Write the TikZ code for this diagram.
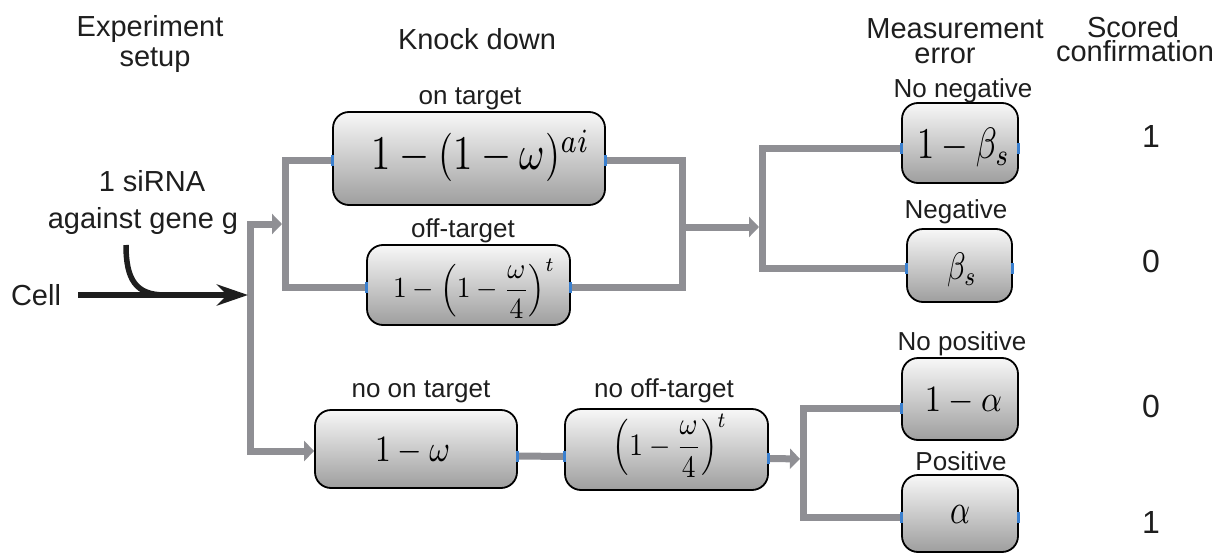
\documentclass[tikz,border=0pt]{standalone}
\usepackage[no-math]{fontspec}
\usepackage{graphicx}
\newfontfamily\hv{Liberation Sans}
\usetikzlibrary{arrows.meta}

\definecolor{linegray}{RGB}{143,143,148}
\definecolor{portblue}{RGB}{58,128,208}
\definecolor{ink}{RGB}{30,30,30}

\tikzset{
  txt/.style={font=\hv\fontsize{29}{33}\selectfont, text=ink, inner sep=0pt, anchor=base},
  score/.style={font=\hv\fontsize{32}{36}\selectfont, text=ink, inner sep=0pt, anchor=base},
  lbl/.style={font=\hv\fontsize{26}{30}\selectfont, text=ink, inner sep=0pt, anchor=base},
  pbox/.style={draw=black, line width=1.8pt, rounded corners=16pt,
               top color=black!3, bottom color=black!38, inner sep=0pt},
  fml/.style={inner sep=0pt, text=black},
  gline/.style={draw=linegray, line width=7pt},
  gtip/.style={-{Triangle[length=10pt,width=20pt]}},
  port/.style={fill=portblue, draw=none, minimum width=3pt, minimum height=11pt, inner sep=0pt},
  blk/.style={draw=ink, line width=5.5pt},
}

\begin{document}
\begin{tikzpicture}[x=1pt,y=-1pt]
\useasboundingbox (0,0) rectangle (1224,554);

% column headers
\node[txt] (exp1) at (150,36) {Experiment};
\node[txt] (exp2) at (155,66) {setup};
\node[txt] (knock) at (477,49) {Knock down};
\node[txt] (meas1) at (955,38) {Measurement};
\node[txt] (meas2) at (945,63) {error};
\node[txt] (sc1) at (1133,37) {Scored};
\node[txt] (sc2) at (1135,61) {confirmation};

% inputs
\node[txt] (sirna1) at (152,191) {1 siRNA};
\node[txt] (sirna2) at (143,228) {against gene g};
\node[txt] (cell) at (36,305) {Cell};

% probability boxes
\node[pbox, minimum width=272pt, minimum height=93pt] (ont)   at (469,158.5) {};
\node[pbox, minimum width=203pt, minimum height=80pt] (offt)  at (468.5,285) {};
\node[pbox, minimum width=202pt, minimum height=78pt] (noon)  at (416,449) {};
\node[pbox, minimum width=203pt, minimum height=81pt] (nooff) at (666.5,449.5) {};
\node[pbox, minimum width=116pt, minimum height=80pt] (nneg)  at (960,143) {};
\node[pbox, minimum width=105pt, minimum height=73pt] (neg)   at (959.5,265.5) {};
\node[pbox, minimum width=116pt, minimum height=82pt] (npos)  at (960,399) {};
\node[pbox, minimum width=116pt, minimum height=77pt] (pos)   at (960,513.5) {};

% formulas
\node[fml] (font)   at (481,156)   {\resizebox*{218pt}{52pt}{$1-(1-\omega)^{ai}$}};
\node[fml] (fofft)  at (474,288.5) {\resizebox*{162pt}{59pt}{$\displaystyle 1-\left(1-\frac{\omega}{4}\right)^{t}$}};
\node[fml] (fnoon)  at (412.5,451.5) {\resizebox*{75pt}{27pt}{$1-\omega$}};
\node[fml] (fnooff) at (670,445.5) {\resizebox*{114pt}{63pt}{$\displaystyle \left(1-\frac{\omega}{4}\right)^{t}$}};
\node[fml] (fnneg)  at (963.5,147.5) {\resizebox*{93pt}{39pt}{$1-\beta_s$}};
\node[fml] (fneg)   at (962,270)   {\resizebox*{30pt}{34pt}{$\beta_s$}};
\node[fml] (fnpos)  at (963.5,401.5) {\resizebox*{77pt}{27pt}{$1-\alpha$}};
\node[fml] (fpos)   at (960,514)     {\resizebox*{20pt}{18pt}{$\alpha$}};

% labels above the boxes
\node[lbl] (lont)   at (470,104) {on target};
\node[lbl] (lofft)  at (463,237) {off-target};
\node[lbl] (lnoon)  at (421,397) {no on target};
\node[lbl] (lnooff) at (664,397) {no off-target};
\node[lbl] (lnneg)  at (963,97)  {No negative};
\node[lbl] (lneg)   at (956,218) {Negative};
\node[lbl] (lnpos)  at (962,350) {No positive};
\node[lbl] (lpos)   at (961,470) {Positive};

% scores
\node[score] (s1) at (1151,147) {1};
\node[score] (s2) at (1151,272) {0};
\node[score] (s3) at (1151,417) {0};
\node[score] (s4) at (1151,533) {1};

% junction points of the grey flow lines
\coordinate (j1) at (250,295);
\coordinate (k1) at (285,224);
\coordinate (m1) at (682,227);
\coordinate (k2) at (762,227);
\coordinate (k3) at (803,459);

% grey flow lines
\draw[gline,gtip,shorten >=3pt] (j1) |- (k1);
\draw[gline,gtip] (j1) |- ([yshift=-2pt]noon.west);
\draw[gline] ([yshift=-1.5pt]ont.west) -| (k1);
\draw[gline] ([yshift=-2pt]offt.west) -| (k1);
\draw[gline] ([yshift=-1.5pt]ont.east) -| (m1);
\draw[gline] ([yshift=-2pt]offt.east) -| (m1);
\draw[gline,gtip,shorten >=3pt] (m1) -- (k2);
\draw[gline] ([yshift=-5pt]nneg.west) -| (k2);
\draw[gline] ([yshift=-2.5pt]neg.west) -| (k2);
\draw[gline] ([yshift=-7pt]noon.east) -- ([yshift=-7pt]nooff.west);
\draw[gline,gtip,shorten >=3pt] ([yshift=-9pt]nooff.east) -- (k3);
\draw[gline] ([yshift=-9pt]npos.west) -| (k3);
\draw[gline] ([yshift=-3.5pt]pos.west) -| (k3);

% connection ports on the box edges
\node[port] (p1)  at ([yshift=-1.5pt]ont.west) {};
\node[port] (p2)  at ([yshift=-1.5pt]ont.east) {};
\node[port] (p3)  at ([yshift=-2pt]offt.west) {};
\node[port] (p4)  at ([yshift=-2pt]offt.east) {};
\node[port] (p5)  at ([yshift=-7pt]noon.east) {};
\node[port] (p6)  at ([yshift=-7pt]nooff.west) {};
\node[port] (p7)  at ([yshift=-9pt]nooff.east) {};
\node[port] (p8)  at ([yshift=-5pt]nneg.west) {};
\node[port] (p9)  at ([yshift=-5pt]nneg.east) {};
\node[port] (p10) at ([yshift=-2.5pt]neg.west) {};
\node[port] (p11) at ([yshift=-2.5pt]neg.east) {};
\node[port] (p12) at ([yshift=-9pt]npos.west) {};
\node[port] (p13) at ([yshift=-3.5pt]pos.west) {};
\node[port] (p14) at ([yshift=-3.5pt]pos.east) {};

% black input arrow with the siRNA joining it
\coordinate (c0) at (126,245);
\coordinate (c1) at (165,295);
\draw[blk] (c0) .. controls (126,280) and (136,295) .. (c1);
\draw[blk,-{Stealth[length=31pt,width=21pt,inset=10pt]},shorten <=17pt,shorten >=2pt]
  (cell.east |- j1) -- (j1);
\end{tikzpicture}
\end{document}
